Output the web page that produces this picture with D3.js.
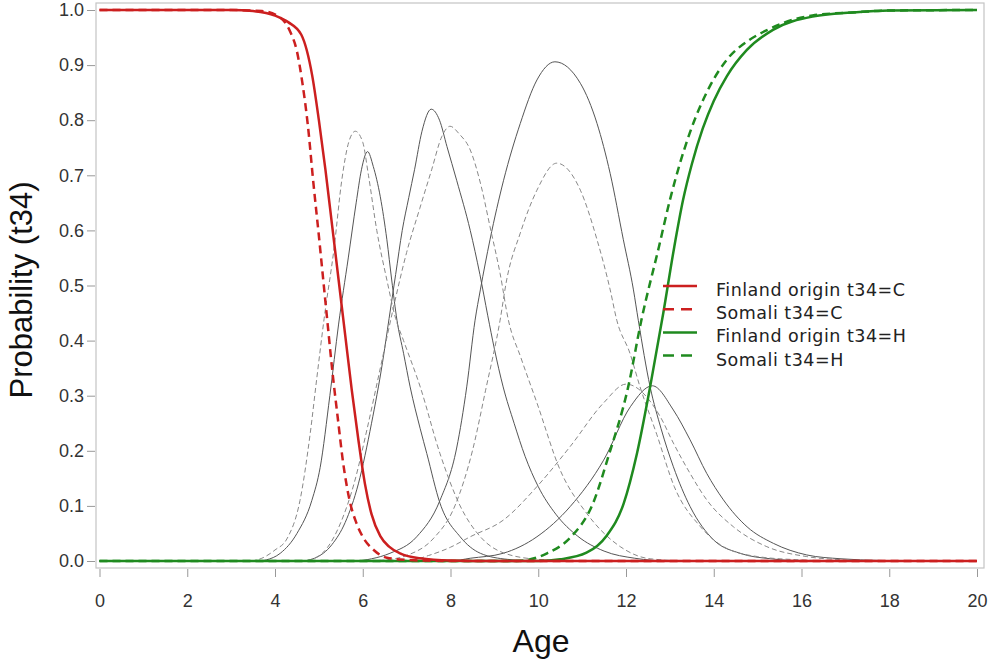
<!DOCTYPE html>
<html>
<head>
<meta charset="utf-8">
<script src="https://cdn.jsdelivr.net/npm/d3@7"></script>
<style>
    body { margin: 0; background: #fff; }
    .axis text { font-family: "Liberation Sans", Arial, sans-serif; font-size: 18px; fill: #333; }
    .axis line { stroke: #999; }
    .axis path { display: none; }
    .axis-title { font-family: "Liberation Sans", Arial, sans-serif; fill: #111; }
    .legend text { font-family: "DejaVu Sans", Verdana, sans-serif; font-size: 17.5px; letter-spacing: 0.5px; fill: #222; }
</style>
</head>
<body>
<div id="chart"></div>
<script>
// tick labels
const xTicks = [0, 2, 4, 6, 8, 10, 12, 14, 16, 18, 20];
const yTicks = [0, 0.1, 0.2, 0.3, 0.4, 0.5, 0.6, 0.7, 0.8, 0.9, 1.0];

const legendLabels = ["Finland origin t34=C", "Somali t34=C", "Finland origin t34=H", "Somali t34=H"];

// [age, probability]
const finlandC = [[0,1],[3,1],[3.5,0.998],[4,0.99],[4.3,0.978],[4.6,0.955],[4.85,0.88],[5.0,0.8],[5.15,0.71],
    [5.3,0.61],[5.45,0.51],[5.6,0.41],[5.75,0.31],[5.9,0.22],[6.05,0.14],[6.2,0.085],[6.4,0.045],[6.6,0.026],
    [6.85,0.014],[7.3,0.005],[8,0.001],[9,0],[20,0]];
const somaliC = [[0,1],[3,1],[3.7,0.998],[4.05,0.99],[4.35,0.96],[4.5,0.925],[4.62,0.87],[4.75,0.79],[4.87,0.69],
    [5.0,0.59],[5.1,0.51],[5.2,0.43],[5.3,0.35],[5.43,0.26],[5.55,0.18],[5.7,0.11],[5.85,0.07],[6.0,0.044],
    [6.25,0.02],[6.55,0.006],[7,0.002],[8,0],[20,0]];
const finlandH = [[0,0],[10,0],[10.5,0.003],[11.1,0.015],[11.55,0.045],[11.95,0.105],[12.25,0.195],[12.55,0.316],
    [12.85,0.45],[13.1,0.57],[13.3,0.655],[13.5,0.72],[13.75,0.785],[14.0,0.835],[14.3,0.88],[14.75,0.927],
    [15.35,0.964],[16.25,0.988],[17.25,0.996],[18,0.999],[20,1]];
const somaliH = [[0,0],[9.5,0],[10.2,0.014],[10.75,0.044],[11.25,0.105],[11.6,0.19],[12.05,0.316],[12.35,0.437],
    [12.75,0.57],[13.0,0.655],[13.45,0.776],[13.9,0.86],[14.3,0.91],[14.8,0.945],[15.2,0.963],[15.6,0.977],
    [16.25,0.99],[17.25,0.996],[18,0.999],[20,1]];

// intermediate states (thin grey)
const finMid1 = [[0,0],[3.6,0],[3.8,0.002],[4.12,0.014],[4.5,0.05],[4.84,0.11],[5.03,0.17],[5.25,0.3],[5.45,0.43],
    [5.67,0.55],[5.85,0.65],[5.97,0.71],[6.11,0.743],[6.24,0.716],[6.4,0.661],[6.55,0.583],[6.66,0.51],[6.78,0.437],
    [6.93,0.377],[7.08,0.316],[7.31,0.24],[7.46,0.195],[7.76,0.105],[8.22,0.044],[8.68,0.014],[9.3,0.003],[10,0],[20,0]];
const finMid2 = [[0,0],[4.6,0],[4.9,0.005],[5.3,0.03],[5.6,0.07],[5.9,0.14],[6.2,0.25],[6.45,0.36],[6.6,0.44],
    [6.75,0.52],[6.9,0.6],[7.05,0.66],[7.18,0.71],[7.35,0.78],[7.56,0.82],[7.75,0.8],[7.92,0.752],[8.14,0.691],
    [8.45,0.6],[8.67,0.52],[8.85,0.445],[9.0,0.385],[9.2,0.316],[9.45,0.25],[9.7,0.19],[10.0,0.135],[10.4,0.085],
    [10.9,0.045],[11.5,0.018],[12.2,0.005],[13,0],[20,0]];
const finMid3 = [[0,0],[5.8,0],[6.2,0.004],[6.62,0.014],[7.23,0.044],[7.76,0.11],[8.14,0.205],[8.37,0.316],
    [8.56,0.437],[8.68,0.492],[8.9,0.583],[9.21,0.691],[9.59,0.794],[9.97,0.873],[10.38,0.906],[10.96,0.867],
    [11.34,0.794],[11.64,0.703],[11.94,0.583],[12.17,0.492],[12.28,0.437],[12.55,0.316],[12.8,0.24],[13.08,0.171],
    [13.46,0.099],[14.0,0.038],[14.6,0.014],[15.3,0.004],[16.2,0],[20,0]];
const finMid4 = [[0,0],[8,0],[8.45,0.005],[9.2,0.014],[9.97,0.044],[10.73,0.099],[11.49,0.183],[12.1,0.28],
    [12.6,0.318],[13.08,0.274],[13.46,0.22],[13.84,0.159],[14.22,0.111],[14.76,0.062],[15.36,0.032],[16.12,0.011],
    [16.9,0.004],[17.8,0.001],[18.5,0],[20,0]];

const somMid1 = [[0,0],[3.4,0],[3.7,0.005],[4.0,0.02],[4.27,0.04],[4.57,0.11],[4.8,0.23],[4.95,0.33],[5.12,0.44],
    [5.35,0.57],[5.52,0.69],[5.68,0.76],[5.83,0.78],[6.0,0.76],[6.13,0.7],[6.32,0.6],[6.55,0.51],[6.75,0.44],
    [6.93,0.4],[7.31,0.316],[7.76,0.195],[8.22,0.1],[8.68,0.044],[9.2,0.015],[10,0.003],[11,0],[20,0]];
const somMid2 = [[0,0],[4.6,0],[4.9,0.005],[5.2,0.025],[5.5,0.07],[5.8,0.14],[6.1,0.24],[6.4,0.35],[6.7,0.46],
    [7.0,0.56],[7.3,0.64],[7.57,0.71],[7.8,0.77],[7.99,0.789],[8.2,0.775],[8.45,0.746],[8.7,0.68],[8.9,0.607],
    [9.13,0.522],[9.32,0.437],[9.6,0.37],[9.97,0.287],[10.5,0.165],[11.1,0.087],[11.87,0.026],[12.55,0.004],
    [13.5,0],[20,0]];
const somMid3 = [[0,0],[6,0],[6.5,0.002],[7.0,0.01],[7.6,0.04],[8.1,0.1],[8.5,0.2],[8.8,0.31],[9.13,0.437],
    [9.28,0.51],[9.59,0.595],[9.97,0.673],[10.42,0.722],[10.96,0.673],[11.34,0.583],[11.64,0.492],[11.79,0.437],
    [12.09,0.377],[12.32,0.316],[12.7,0.23],[13.1,0.135],[13.7,0.062],[14.22,0.026],[15,0.008],[16,0.002],[17,0],[20,0]];
const somMid4 = [[0,0],[7,0],[7.5,0.01],[8.0,0.025],[8.45,0.044],[9.2,0.074],[9.97,0.135],[10.73,0.208],
    [11.49,0.287],[12.0,0.321],[12.78,0.262],[13.08,0.214],[13.46,0.159],[13.84,0.111],[14.45,0.062],[15.21,0.026],
    [16.12,0.008],[17,0.002],[17.8,0],[20,0]];

const width = 988, height = 665;
const plot = { left: 96, top: 3, right: 984, bottom: 568 };

const svg = d3.select("#chart").append("svg")
    .attr("width", width)
    .attr("height", height);

const x = d3.scaleLinear().domain([0, 20]).range([99.5, 977]);
const y = d3.scaleLinear().domain([0, 1]).range([561, 10]);

// frame
svg.append("rect")
    .attr("x", plot.left).attr("y", plot.top)
    .attr("width", plot.right - plot.left).attr("height", plot.bottom - plot.top)
    .attr("fill", "none").attr("stroke", "#c4c4c4").attr("stroke-width", 1.2);

// axes
svg.append("g")
    .attr("class", "axis")
    .attr("transform", "translate(" + (plot.left - 1) + ",0)")
    .call(d3.axisLeft(y).tickValues(yTicks).tickFormat(d3.format(".1f")).tickSize(8).tickPadding(3));

svg.append("g")
    .attr("class", "axis")
    .attr("transform", "translate(0," + (plot.bottom + 1) + ")")
    .call(d3.axisBottom(x).tickValues(xTicks).tickSize(8).tickPadding(17));

svg.append("text")
    .attr("class", "axis-title")
    .attr("transform", "translate(32,290) rotate(-90)")
    .attr("text-anchor", "middle")
    .style("font-size", "31px")
    .text("Probability (t34)");

svg.append("text")
    .attr("class", "axis-title")
    .attr("x", 541).attr("y", 652)
    .attr("text-anchor", "middle")
    .style("font-size", "32px")
    .text("Age");

const line = d3.line()
    .x(d => x(d[0]))
    .y(d => y(d[1]))
    .curve(d3.curveMonotoneX);

const red = "#cc1f1f", green = "#1f8a1f";

const series = [
    { data: finMid1, color: "#555", width: 1, dash: null },
    { data: finMid2, color: "#555", width: 1, dash: null },
    { data: finMid3, color: "#555", width: 1, dash: null },
    { data: finMid4, color: "#555", width: 1, dash: null },
    { data: somMid1, color: "#888", width: 1, dash: "5,3" },
    { data: somMid2, color: "#888", width: 1, dash: "5,3" },
    { data: somMid3, color: "#888", width: 1, dash: "5,3" },
    { data: somMid4, color: "#888", width: 1, dash: "5,3" },
    { data: somaliH, color: green, width: 2.5, dash: "8,5" },
    { data: finlandH, color: green, width: 2.5, dash: null },
    { data: somaliC, color: red, width: 2.5, dash: "8,5" },
    { data: finlandC, color: red, width: 2.5, dash: null }
];

svg.append("g").selectAll("path")
    .data(series)
    .enter().append("path")
    .attr("fill", "none")
    .attr("stroke", d => d.color)
    .attr("stroke-width", d => d.width)
    .attr("stroke-dasharray", d => d.dash)
    .attr("d", d => line(d.data));

// legend
const legendStyle = [
    { color: red, dash: null }, { color: red, dash: "11,7" },
    { color: green, dash: null }, { color: green, dash: "11,7" }
];
const legend = svg.append("g").attr("class", "legend");
legendLabels.forEach((label, i) => {
    const ly = 286 + i * 23.2;
    legend.append("line")
        .attr("x1", 663).attr("x2", 697).attr("y1", ly).attr("y2", ly)
        .attr("stroke", legendStyle[i].color).attr("stroke-width", 2.5)
        .attr("stroke-dasharray", legendStyle[i].dash);
    legend.append("text")
        .attr("x", 716).attr("y", ly + 10)
        .text(label);
});
</script>
</body>
</html>
